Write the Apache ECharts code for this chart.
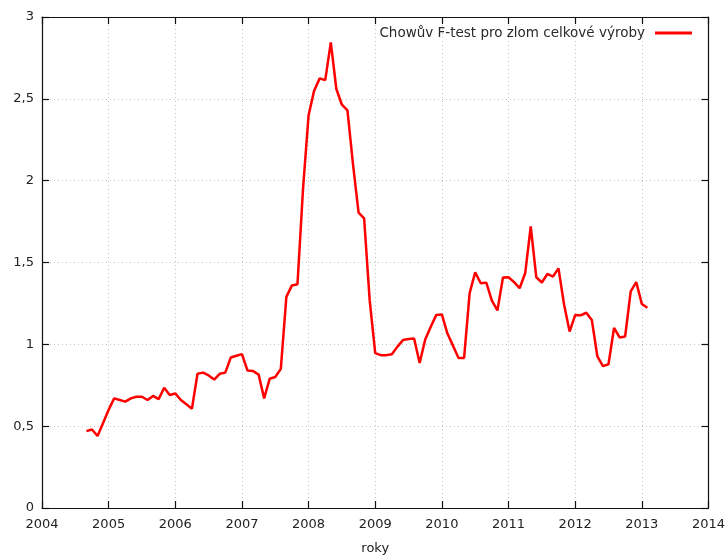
<!DOCTYPE html>
<html>
<head>
<meta charset="utf-8">
<script src="https://cdn.jsdelivr.net/npm/echarts@6/dist/echarts.min.js"></script>
<style>
  html, body { margin: 0; padding: 0; background: #fff; }
  #chart { width: 728px; height: 560px; }
</style>
</head>
<body>
<div id="chart"></div>
<script>
// Monthly Chow F-test statistic, first observation September 2004
const startYear = 2004;
const startMonth = 9;
const fValues = [
  0.47, 0.48, 0.44, 0.52,                                                  // 2004 (Sep–Dec)
  0.60, 0.67, 0.66, 0.65, 0.67, 0.68, 0.68, 0.66, 0.685, 0.665, 0.735, 0.69, // 2005
  0.70, 0.66, 0.634, 0.607, 0.82, 0.827, 0.81, 0.785, 0.82, 0.827, 0.92, 0.93, // 2006
  0.94, 0.84, 0.837, 0.815, 0.67, 0.79, 0.80, 0.85, 1.29, 1.36, 1.367, 1.95,   // 2007
  2.40, 2.55, 2.625, 2.614, 2.845, 2.56, 2.464, 2.43, 2.10, 1.805, 1.77, 1.27, // 2008
  0.946, 0.934, 0.934, 0.94, 0.986, 1.026, 1.032, 1.036, 0.886, 1.03, 1.107, 1.18, // 2009
  1.183, 1.066, 0.992, 0.917, 0.917, 1.313, 1.44, 1.373, 1.377, 1.267, 1.207, 1.408, // 2010
  1.41, 1.38, 1.343, 1.434, 1.72, 1.41, 1.378, 1.43, 1.414, 1.464, 1.243, 1.078, // 2011
  1.179, 1.177, 1.193, 1.149, 0.926, 0.867, 0.878, 1.10, 1.042, 1.048, 1.323, 1.38, // 2012
  1.247, 1.223                                                             // 2013 (Jan–Feb)
];
const seriesName = 'Chowův F-test pro zlom celkové výroby';
const xAxisTitle = 'roky';
const xRange = [2004, 2014];
const yRange = [0, 3];

// pair each value with its decimal-year position
const points = fValues.map((v, i) => [startYear + (startMonth - 1 + i) / 12, v]);

const font = 'DejaVu Sans';
const fontSize = 13;
const gridLine = { show: true, lineStyle: { color: '#c4c4c4', type: [1, 3], width: 1 } };
const frame = { show: true, onZero: false, lineStyle: { color: '#111', width: 1.2 } };
const tick = { show: true, inside: true, length: 7, lineStyle: { color: '#111', width: 1.2 } };

const chart = echarts.init(document.getElementById('chart'), null, { renderer: 'canvas' });
chart.setOption({
  animation: false,
  backgroundColor: '#fff',
  textStyle: { fontFamily: font },
  grid: { left: 42, right: 18, top: 17, bottom: 47 },
  legend: {
    right: 31, top: 21,
    align: 'right',
    icon: 'rect',
    itemWidth: 37, itemHeight: 3,
    textStyle: { fontFamily: font, fontSize: 13.5, color: '#2a2a2a', padding: [0, 5, 0, 0] },
    data: [seriesName]
  },
  xAxis: [
    {
      type: 'value', min: xRange[0], max: xRange[1], interval: 1,
      axisLine: frame, axisTick: tick, splitLine: gridLine,
      axisLabel: { color: '#222', fontSize: fontSize, margin: 10, fontFamily: font, formatter: v => String(v) },
      name: xAxisTitle, nameLocation: 'middle', nameGap: 34,
      nameTextStyle: { color: '#222', fontSize: fontSize, fontFamily: font }
    },
    {
      type: 'value', position: 'top', min: xRange[0], max: xRange[1], interval: 1,
      axisLine: frame, axisTick: tick, splitLine: { show: false }, axisLabel: { show: false }
    }
  ],
  yAxis: [
    {
      type: 'value', min: yRange[0], max: yRange[1], interval: 0.5,
      axisLine: frame, axisTick: tick, splitLine: gridLine,
      axisLabel: {
        color: '#222', fontSize: fontSize, margin: 8, fontFamily: font,
        formatter: v => String(v).replace('.', ',')
      }
    },
    {
      type: 'value', position: 'right', min: yRange[0], max: yRange[1], interval: 0.5,
      axisLine: frame, axisTick: tick, splitLine: { show: false }, axisLabel: { show: false }
    }
  ],
  series: [{
    name: seriesName,
    type: 'line',
    data: points,
    showSymbol: false,
    symbol: 'none',
    color: '#ff0000',
    lineStyle: { color: '#ff0000', width: 2.5 }
  }]
});
</script>
</body>
</html>
